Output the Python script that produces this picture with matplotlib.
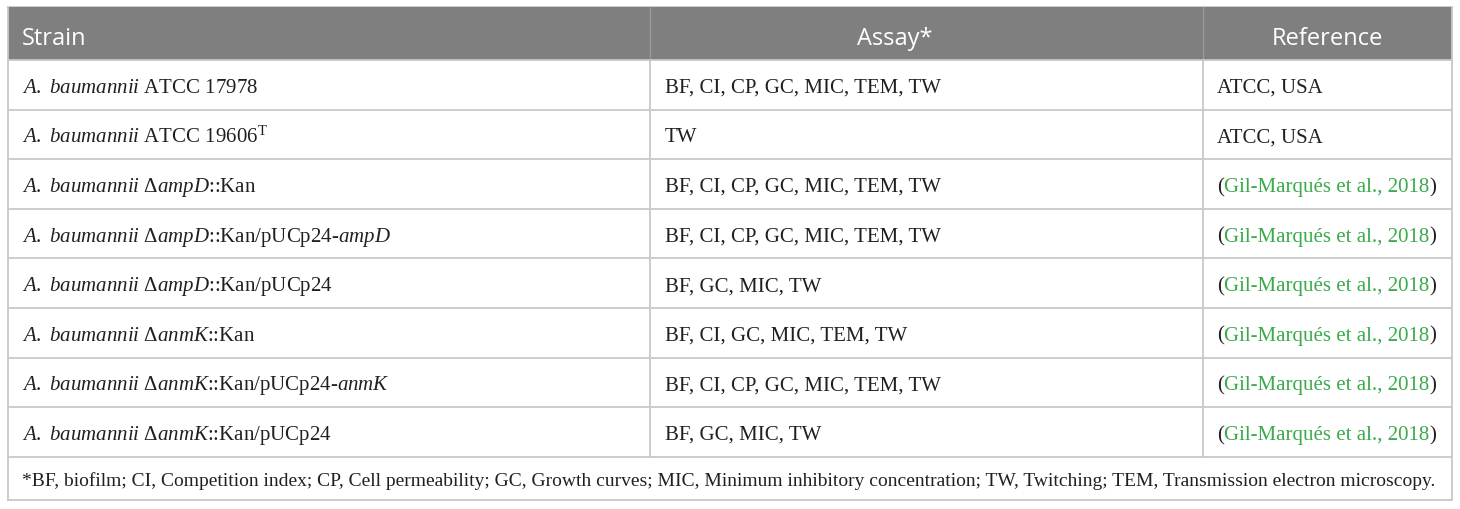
import matplotlib
matplotlib.use("Agg")
import matplotlib.pyplot as plt

plt.rcParams['font.family'] = ['Liberation Serif', 'DejaVu Serif']
plt.rcParams['mathtext.fontset'] = 'custom'
plt.rcParams['mathtext.rm'] = 'Liberation Serif'
plt.rcParams['mathtext.it'] = 'Liberation Serif:italic'

headers = ["Strain", "Assay*", "Reference"]
strains = [
    r"$\mathit{A.}$ $\mathit{baumannii}$ ATCC 17978",
    r"$\mathit{A.}$ $\mathit{baumannii}$ ATCC 19606$^{\mathrm{T}}$",
    r"$\mathit{A.}$ $\mathit{baumannii}$ Δ$\mathit{ampD}$::Kan",
    r"$\mathit{A.}$ $\mathit{baumannii}$ Δ$\mathit{ampD}$::Kan/pUCp24-$\mathit{ampD}$",
    r"$\mathit{A.}$ $\mathit{baumannii}$ Δ$\mathit{ampD}$::Kan/pUCp24",
    r"$\mathit{A.}$ $\mathit{baumannii}$ Δ$\mathit{anmK}$::Kan",
    r"$\mathit{A.}$ $\mathit{baumannii}$ Δ$\mathit{anmK}$::Kan/pUCp24-$\mathit{anmK}$",
    r"$\mathit{A.}$ $\mathit{baumannii}$ Δ$\mathit{anmK}$::Kan/pUCp24",
]
assays = [
    "BF, CI, CP, GC, MIC, TEM, TW",
    "TW",
    "BF, CI, CP, GC, MIC, TEM, TW",
    "BF, CI, CP, GC, MIC, TEM, TW",
    "BF, GC, MIC, TW",
    "BF, CI, GC, MIC, TEM, TW",
    "BF, CI, CP, GC, MIC, TEM, TW",
    "BF, GC, MIC, TW",
]
references = [
    "ATCC, USA",
    "ATCC, USA",
    "Gil-Marqués et al., 2018",
    "Gil-Marqués et al., 2018",
    "Gil-Marqués et al., 2018",
    "Gil-Marqués et al., 2018",
    "Gil-Marqués et al., 2018",
    "Gil-Marqués et al., 2018",
]
is_citation = [False, False, True, True, True, True, True, True]
footnote = ("*BF, biofilm; CI, Competition index; CP, Cell permeability; GC, Growth curves; "
            "MIC, Minimum inhibitory concentration; TW, Twitching; TEM, Transmission electron microscopy.")

W, H = 1460, 509
fig = plt.figure(figsize=(W / 100, H / 100), dpi=100)
ax = fig.add_axes([0, 0, 1, 1])
ax.set_xlim(0, W)
ax.set_ylim(H, 0)
ax.axis('off')

left, right = 8, 1452
top, header_bottom = 7, 60
row_h = 49.6
n = len(strains)
rows_bottom = header_bottom + n * row_h
bottom = 500
col_x = [left, 650, 1203, right]

header_color = '#7f7f7f'
line_color = '#c8c8c8'
green = '#3aaa4a'
text_color = '#231f20'

# header band
ax.add_patch(plt.Rectangle((left, top), right - left, header_bottom - top,
                           facecolor=header_color, edgecolor='none', zorder=1))
for x in col_x[1:3]:
    ax.plot([x, x], [top, header_bottom], color='#999999', lw=1, zorder=2)

# horizontal lines
for i in range(n + 1):
    y = header_bottom + i * row_h
    ax.plot([left, right], [y, y], color=line_color, lw=1.3, zorder=2)
ax.plot([left, right], [bottom, bottom], color=line_color, lw=1.3, zorder=2)
ax.plot([left, right], [top, top], color=line_color, lw=1.3, zorder=0)
ax.plot([left, left], [top, bottom], color=line_color, lw=1.3, zorder=2)
ax.plot([right, right], [top, bottom], color=line_color, lw=1.3, zorder=2)
for x in col_x[1:3]:
    ax.plot([x, x], [header_bottom, rows_bottom], color=line_color, lw=1.3, zorder=2)

# header text (baseline placement)
hy = 45
hfont = dict(family='Open Sans', fontsize=17, color='white', va='baseline', zorder=3)
ax.text(22, hy, headers[0], ha='left', **hfont)
ax.text(895, hy, headers[1], ha='center', **hfont)
ax.text((col_x[2] + col_x[3]) / 2, hy, headers[2], ha='center', **hfont)

fs = 15
fs_foot = 14.0
fig.canvas.draw()
renderer = fig.canvas.get_renderer()
inv = ax.transData.inverted()


def text_width(t):
    bb = t.get_window_extent(renderer=renderer)
    p0 = inv.transform((bb.x0, bb.y0))
    p1 = inv.transform((bb.x1, bb.y1))
    return p1[0] - p0[0]


base_off = 8
for i in range(n):
    by = header_bottom + (i + 0.5) * row_h + base_off
    kw = dict(ha='left', va='baseline', fontsize=fs, zorder=3)
    ax.text(22, by, strains[i], color=text_color, **kw)
    ax.text(col_x[1] + 15, by, assays[i], color=text_color, **kw)
    x0 = col_x[2] + 14
    if is_citation[i]:
        t1 = ax.text(x0, by, "(", color=text_color, **kw)
        x1 = x0 + text_width(t1)
        t2 = ax.text(x1, by, references[i], color=green, **kw)
        x2 = x1 + text_width(t2)
        ax.text(x2, by, ")", color=text_color, **kw)
    else:
        ax.text(x0, by, references[i], color=text_color, **kw)

ax.text(22, (rows_bottom + bottom) / 2 + base_off, footnote, ha='left', va='baseline',
        fontsize=fs_foot, color=text_color, zorder=3)

fig.savefig("out.png", dpi=100)
